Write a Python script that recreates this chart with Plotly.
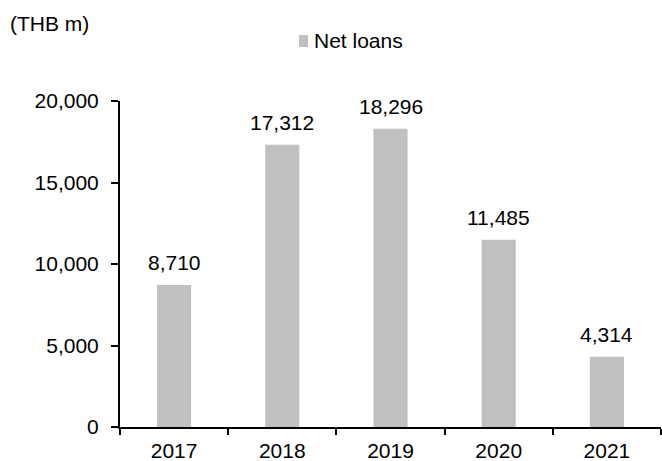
import plotly.graph_objects as go

years = ["2017", "2018", "2019", "2020", "2021"]
net_loans = [8710, 17312, 18296, 11485, 4314]
y_ticks = [0, 5000, 10000, 15000, 20000]
series_name = "Net loans"
unit_label = "(THB m)"

FONT = "Liberation Sans, Arial, sans-serif"
BAR_COLOR = "#C0C0C0"

W, H = 662, 461
L, R, T, B = 120, 1, 101, 34
PW, PH = W - L - R, H - T - B


def px(x):
    return (x - L) / PW


def py(y):
    return (H - B - y) / PH


fig = go.Figure()
fig.add_trace(go.Bar(
    x=years, y=net_loans, name=series_name,
    marker=dict(color=BAR_COLOR, line=dict(width=0)),
    showlegend=False,
))

annotations = []
for i, v in enumerate(net_loans):
    annotations.append(dict(
        x=i, y=v, xref="x", yref="y", text=f"{v:,}",
        showarrow=False, yanchor="bottom", yshift=9,
        font=dict(family=FONT, size=21, color="#000000"),
    ))
annotations.append(dict(
    x=px(8), y=py(10), xref="paper", yref="paper",
    xanchor="left", yanchor="top", text=unit_label, showarrow=False,
    font=dict(family=FONT, size=21, color="#000000"),
))
annotations.append(dict(
    x=px(312), y=py(41), xref="paper", yref="paper",
    xanchor="left", yanchor="middle", text=series_name, showarrow=False,
    font=dict(family=FONT, size=21, color="#000000"),
))

fig.update_layout(
    width=W, height=H,
    margin=dict(l=L, r=R, t=T, b=B, autoexpand=False),
    paper_bgcolor="white", plot_bgcolor="white",
    bargap=0.685,
    font=dict(family=FONT, size=21, color="#000000"),
    annotations=annotations,
    shapes=[dict(
        type="rect", xref="paper", yref="paper",
        x0=px(299), x1=px(308), y0=py(47), y1=py(35),
        fillcolor=BAR_COLOR, line=dict(width=0),
    )],
    xaxis=dict(
        type="category", categoryorder="array", categoryarray=years,
        range=[-0.5, len(years) - 0.5],
        showgrid=False, showline=True, linecolor="#000000", linewidth=2,
        ticks="outside", tickson="boundaries", ticklen=6, tickwidth=2,
        tickcolor="#000000", tickangle=0, automargin=False,
        ticklabelstandoff=4,
        tickfont=dict(family=FONT, size=21, color="#000000"),
    ),
    yaxis=dict(
        range=[0, 20000], tickvals=y_ticks, tickformat=",d",
        showgrid=False, zeroline=False, showline=True, linecolor="#000000",
        linewidth=2, ticks="outside", ticklen=7, tickwidth=2,
        tickcolor="#000000", ticklabelstandoff=8, automargin=False,
        tickfont=dict(family=FONT, size=21, color="#000000"),
    ),
)

fig.write_html("out.html")
